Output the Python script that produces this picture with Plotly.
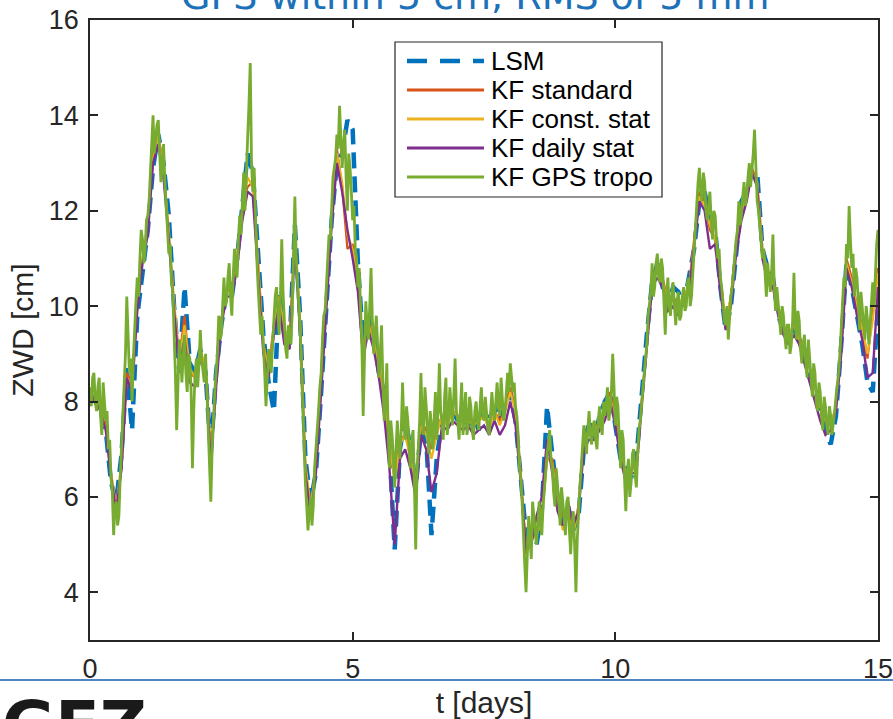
import plotly.graph_objects as go

# ---------------- data ----------------
t_step_fine = 0.025   # days, KF GPS tropo sampling
t_step_coarse = 0.1   # days, other series

kf_gps_tropo = [
    8.3, 7.9, 8.5, 8.6, 8.0, 7.8, 8.3, 8.5, 7.7, 7.3, 8.4, 8.0, 7.6, 7.8, 7.0, 7.2, 6.4, 6.1, 5.2, 5.8,
    5.9, 5.4, 5.6, 6.4, 7.0, 7.9, 8.2, 9.0, 10.2, 9.1, 8.6, 8.9, 8.0, 8.9, 9.6, 10.1, 10.6, 10.2, 11.0, 11.6,
    11.4, 10.9, 11.2, 11.8, 11.9, 12.2, 12.8, 13.6, 14.0, 13.2, 13.5, 13.8, 13.9, 13.0, 12.6, 12.9, 13.4, 12.6, 12.0, 11.6,
    11.1, 11.3, 10.5, 10.3, 9.6, 8.6, 7.4, 8.6, 9.3, 8.9, 8.4, 9.0, 9.4, 8.6, 8.2, 9.0, 8.9, 8.2, 6.6, 7.8,
    8.6, 8.9, 8.3, 8.8, 9.5, 8.9, 8.6, 8.4, 9.0, 8.3, 7.5, 6.8, 5.9, 7.0, 7.8, 8.2, 8.6, 9.0, 9.8, 9.3,
    9.4, 9.9, 10.6, 10.0, 10.1, 10.6, 10.9, 10.2, 9.8, 10.6, 11.2, 10.8, 10.6, 11.4, 11.9, 11.5, 12.4, 12.8, 12.0, 12.6,
    13.5, 14.2, 15.1, 13.0, 12.4, 12.9, 11.8, 11.0, 10.4, 10.0, 9.4, 9.8, 9.0, 8.6, 7.9, 8.5, 9.1, 8.8, 8.6, 9.2,
    9.8, 10.2, 10.4, 9.9, 9.4, 10.2, 11.4, 10.3, 9.6, 9.1, 8.9, 9.6, 9.3, 9.2, 9.9, 10.9, 12.3, 11.0, 10.6, 10.0,
    9.5, 8.6, 8.0, 7.3, 6.3, 5.8, 5.3, 5.7, 6.0, 5.4, 5.8, 6.6, 7.0, 7.2, 7.8, 8.3, 8.6, 9.3, 9.8, 9.9,
    10.5, 11.2, 11.5, 11.4, 12.1, 12.7, 12.9, 13.1, 13.6, 13.3, 14.2, 13.6, 12.9, 13.4, 13.7, 12.7, 12.0, 13.2, 12.9, 12.4,
    11.8, 12.1, 11.2, 11.0, 10.4, 10.8, 10.0, 9.2, 7.7, 9.0, 10.1, 9.6, 9.3, 10.0, 10.8, 9.7, 9.0, 9.4, 9.8, 9.2,
    8.5, 9.0, 9.6, 8.4, 7.6, 8.0, 8.8, 7.4, 6.6, 7.6, 7.3, 6.8, 6.2, 7.0, 7.6, 7.1, 6.8, 7.4, 8.4, 7.5,
    7.2, 7.9, 7.6, 7.0, 6.6, 7.2, 7.4, 6.3, 4.9, 6.5, 7.0, 7.6, 8.6, 7.6, 7.3, 8.3, 7.9, 7.2, 6.9, 7.8,
    7.5, 7.0, 7.8, 8.2, 7.2, 7.8, 8.8, 7.8, 7.6, 7.2, 8.1, 8.5, 7.3, 7.6, 8.3, 7.9, 7.5, 8.1, 8.9, 7.8,
    7.6, 7.2, 7.9, 8.4, 7.3, 7.7, 8.2, 7.3, 7.5, 8.1, 7.9, 7.4, 7.2, 7.8, 8.0, 7.6, 7.4, 7.9, 8.3, 7.7,
    7.6, 8.1, 7.8, 7.4, 7.3, 7.9, 8.2, 7.8, 7.6, 8.0, 8.4, 7.9, 7.7, 8.5, 8.1, 7.6, 7.8, 8.3, 8.6, 8.2,
    8.8, 8.5, 8.2, 8.4, 7.9, 7.7, 7.3, 6.6, 6.4, 5.9, 5.1, 4.6, 4.0, 5.0, 5.6, 5.1, 4.7, 5.9, 5.5, 5.3,
    5.0, 5.6, 5.9, 5.4, 5.2, 5.8, 6.2, 6.5, 6.9, 7.1, 7.4, 6.8, 6.6, 6.1, 5.8, 6.6, 6.3, 5.9, 5.4, 6.2,
    5.9, 5.5, 5.2, 5.9, 6.0, 5.3, 4.8, 5.4, 5.7, 5.0, 4.0, 5.1, 5.8, 6.2, 6.6, 7.0, 7.5, 7.2, 6.9, 7.4,
    7.8, 7.3, 7.1, 7.5, 7.6, 7.2, 7.0, 7.6, 7.9, 7.5, 7.3, 8.0, 7.7, 7.9, 8.3, 7.6, 7.8, 8.2, 9.0, 8.3,
    7.5, 8.1, 7.9, 7.2, 6.6, 7.4, 7.2, 6.4, 5.7, 6.5, 6.8, 6.0, 6.3, 6.9, 7.0, 6.5, 6.2, 6.9, 7.4, 7.6,
    8.0, 8.4, 8.6, 8.9, 9.2, 9.8, 10.0, 10.3, 10.9, 10.2, 10.4, 10.9, 11.1, 10.6, 10.5, 11.0, 10.8, 10.1, 9.4, 10.2,
    10.6, 10.0, 9.8, 10.3, 10.5, 10.0, 9.6, 10.1, 10.3, 9.7, 9.8, 10.2, 10.4, 9.9, 10.0, 10.5, 10.6, 10.0, 10.2, 10.7,
    11.2, 11.5, 12.0, 12.6, 12.9, 12.4, 12.2, 12.8, 12.6, 12.0, 11.8, 12.2, 12.4, 11.8, 11.4, 12.0, 11.9, 11.4, 11.0, 11.2,
    10.6, 10.4, 10.0, 9.7, 9.6, 10.0, 9.3, 9.8, 10.2, 10.4, 10.8, 11.2, 11.4, 11.6, 12.2, 11.7, 11.9, 12.3, 12.6, 12.1,
    12.3, 12.7, 13.0, 12.5, 12.8, 13.2, 13.7, 12.9, 12.2, 12.0, 11.6, 11.3, 11.0, 11.2, 10.6, 10.2, 10.9, 10.6, 10.3, 10.7,
    11.5, 10.4, 9.9, 10.4, 10.1, 9.7, 9.4, 10.0, 9.8, 9.4, 9.1, 9.6, 9.6, 9.0, 9.2, 9.7, 10.7, 9.6, 9.3, 9.9,
    9.7, 9.1, 8.8, 9.2, 9.4, 8.8, 8.5, 9.3, 8.9, 8.4, 8.1, 8.8, 8.6, 8.0, 7.8, 8.4, 8.2, 7.7, 7.4, 8.1,
    7.9, 7.5, 7.3, 7.9, 7.7, 7.3, 7.5, 7.8, 8.1, 8.3, 8.6, 9.0, 9.5, 9.9, 10.6, 10.4, 11.3, 11.0, 12.1, 11.4,
    10.8, 11.1, 10.2, 10.8, 10.6, 10.1, 9.5, 10.3, 10.0, 9.6, 9.3, 10.0, 9.7, 9.2, 9.6, 10.1, 10.5, 10.0, 10.9, 11.3,
    11.6,
]

lsm = [
    8.2, 8.0, 7.8, 7.4, 6.3, 5.9, 6.9, 8.7, 7.4, 9.8,
    10.8, 11.6, 12.9, 13.6, 13.0, 11.9, 10.0, 8.6, 10.4, 8.8,
    8.6, 9.1, 8.6, 6.9, 8.6, 9.6, 10.3, 10.2, 11.0, 12.2,
    13.2, 12.8, 11.0, 9.4, 8.4, 7.8, 10.3, 9.4, 9.2, 11.7,
    9.8, 6.8, 5.9, 6.5, 8.2, 10.0, 11.8, 13.0, 13.2, 13.9,
    13.7, 10.9, 9.2, 9.8, 9.5, 8.6, 8.2, 7.0, 4.9, 7.0,
    7.7, 7.0, 6.2, 7.4, 7.2, 5.2, 6.8, 7.6, 7.7, 7.8,
    7.6, 7.8, 7.5, 7.7, 7.4, 7.8, 7.6, 7.9, 7.6, 7.9,
    8.2, 7.6, 6.5, 5.2, 5.0, 5.0, 5.7, 7.9, 6.9, 6.0,
    5.5, 5.8, 5.3, 5.6, 7.0, 7.6, 7.2, 7.7, 8.0, 8.2,
    7.5, 6.8, 6.6, 6.4, 6.8, 8.2, 9.4, 10.5, 10.9, 10.4,
    10.0, 10.4, 10.3, 10.0, 10.6, 11.2, 12.2, 12.4, 11.8, 11.6,
    10.4, 9.5, 10.0, 11.0, 12.2, 12.4, 12.8, 12.8, 11.2, 10.8,
    10.6, 9.8, 9.5, 9.4, 9.5, 9.3, 9.1, 8.5, 8.2, 7.8,
    7.4, 7.1, 7.7, 9.2, 10.9, 10.4, 9.8, 9.2, 8.4, 8.2,
    10.0,
]

kf_standard = [
    8.2, 8.1, 7.9, 7.5, 6.5, 5.7, 6.6, 8.6, 8.4, 10.0,
    11.0, 11.6, 13.2, 13.6, 12.9, 11.5, 10.0, 8.9, 9.8, 8.6,
    8.5, 9.0, 8.8, 6.8, 8.4, 9.7, 10.3, 10.4, 11.0, 12.1,
    12.5, 12.6, 10.8, 9.2, 8.7, 9.6, 10.2, 9.4, 9.3, 11.5,
    9.6, 6.6, 5.7, 6.6, 8.4, 10.2, 11.9, 13.3, 12.5, 11.2,
    11.3, 10.5, 9.0, 9.7, 9.3, 8.8, 8.0, 7.0, 6.4, 7.2,
    7.3, 6.9, 6.2, 7.6, 7.4, 7.0, 7.4, 7.7, 7.6, 7.8,
    7.7, 7.6, 7.7, 7.5, 7.6, 7.7, 7.5, 7.8, 7.6, 7.8,
    8.3, 7.8, 6.5, 4.8, 5.1, 5.3, 5.6, 6.8, 6.8, 6.0,
    5.6, 5.7, 5.3, 5.8, 7.2, 7.4, 7.4, 7.6, 7.8, 8.2,
    7.7, 6.9, 6.4, 6.6, 6.6, 8.0, 9.2, 10.6, 10.8, 10.6,
    10.1, 10.2, 10.0, 10.2, 10.4, 11.4, 12.4, 12.2, 11.6, 11.4,
    10.5, 9.6, 10.2, 11.3, 12.0, 12.4, 12.9, 12.6, 11.2, 10.7,
    10.6, 10.0, 9.6, 9.4, 9.6, 9.4, 9.0, 8.7, 8.3, 7.9,
    7.6, 7.5, 7.9, 9.2, 11.0, 10.6, 10.0, 9.6, 8.9, 9.8,
    10.8,
]

kf_const_stat = [
    8.2, 8.1, 7.9, 7.4, 6.5, 5.8, 6.7, 8.5, 8.3, 10.1,
    11.0, 11.7, 13.1, 13.6, 12.8, 11.6, 10.1, 8.9, 9.6, 8.7,
    8.5, 9.1, 8.7, 6.9, 8.4, 9.7, 10.3, 10.3, 11.1, 12.0,
    12.7, 12.5, 10.9, 9.2, 8.6, 9.5, 10.2, 9.5, 9.3, 11.4,
    9.7, 6.7, 5.8, 6.6, 8.3, 10.2, 11.8, 13.2, 12.6, 11.5,
    11.2, 10.5, 9.1, 9.6, 9.3, 8.7, 8.0, 7.1, 6.3, 7.1,
    7.3, 6.8, 6.3, 7.5, 7.3, 6.8, 7.3, 7.7, 7.5, 7.8,
    7.7, 7.6, 7.6, 7.5, 7.6, 7.7, 7.4, 7.8, 7.5, 7.8,
    8.2, 7.8, 6.4, 4.9, 5.1, 5.2, 5.5, 6.8, 6.7, 5.9,
    5.3, 5.6, 5.2, 5.8, 7.1, 7.4, 7.3, 7.6, 7.7, 8.1,
    7.6, 6.9, 6.5, 6.6, 6.6, 8.0, 9.2, 10.5, 10.8, 10.5,
    10.1, 10.1, 10.0, 10.2, 10.4, 11.3, 12.3, 12.1, 11.7, 11.4,
    10.5, 9.7, 10.2, 11.2, 12.0, 12.3, 12.8, 12.6, 11.2, 10.7,
    10.5, 10.0, 9.6, 9.4, 9.6, 9.3, 9.0, 8.7, 8.3, 7.9,
    7.6, 7.5, 7.9, 9.1, 10.9, 10.5, 10.0, 9.5, 9.0, 9.7,
    10.7,
]

kf_daily_stat = [
    8.2, 8.0, 7.8, 7.4, 6.4, 5.7, 6.6, 8.5, 8.2, 9.9,
    10.9, 11.5, 13.0, 13.4, 12.7, 11.4, 9.9, 8.7, 9.3, 8.4,
    8.3, 8.9, 8.6, 6.7, 8.3, 9.6, 10.2, 10.2, 10.8, 11.8,
    12.4, 12.3, 10.6, 9.0, 8.5, 9.4, 10.0, 9.2, 9.1, 11.3,
    9.4, 6.5, 5.6, 6.5, 8.2, 10.0, 11.7, 13.0, 12.4, 11.6,
    11.0, 10.3, 8.9, 9.5, 9.1, 8.5, 7.7, 6.6, 5.0, 6.8,
    7.0, 6.6, 6.0, 7.3, 7.0, 6.1, 6.5, 7.5, 7.4, 7.6,
    7.5, 7.4, 7.5, 7.3, 7.4, 7.5, 7.3, 7.6, 7.3, 7.5,
    8.0, 7.5, 6.3, 4.9, 5.0, 5.6, 6.0, 7.2, 6.5, 5.7,
    5.4, 5.9, 5.4, 5.7, 7.0, 7.2, 7.2, 7.4, 7.6, 8.0,
    7.5, 6.8, 6.3, 6.5, 6.5, 7.9, 9.1, 10.4, 10.6, 10.4,
    9.9, 10.0, 9.8, 10.1, 10.3, 11.2, 12.2, 12.0, 11.2, 11.3,
    10.3, 9.5, 10.0, 11.1, 11.8, 12.2, 12.8, 12.5, 11.0, 10.5,
    10.4, 9.8, 9.4, 9.2, 9.4, 9.2, 8.8, 8.4, 8.0, 7.6,
    7.3, 7.4, 7.8, 9.0, 10.8, 10.4, 9.8, 9.3, 8.5, 8.6,
    10.4,
]

t_fine = [round(i * t_step_fine, 4) for i in range(len(kf_gps_tropo))]
t_coarse = [round(i * t_step_coarse, 4) for i in range(len(lsm))]

x_ticks = [0, 5, 10, 15]
y_ticks = [4, 6, 8, 10, 12, 14, 16]

series_names = ["LSM", "KF standard", "KF const. stat", "KF daily stat", "KF GPS tropo"]

title_text = "GPS within 5 cm, RMS of 5 mm"
x_label = "t [days]"
y_label = "ZWD [cm]"
logo_text = "GFZ"

# ---------------- styles ----------------
colors = ["#0072BD", "#D95319", "#EDB120", "#7E2F8E", "#77AC30"]
widths = [4.5, 2.2, 2.2, 2.4, 2.8]
dashes = ["16px,8px", "solid", "solid", "solid", "solid"]

W, H = 893, 719
ML, MR, MT, MB = 90, 15, 20, 79
plot_w = W - ML - MR
plot_h = H - MT - MB


def px_x(px):
    return (px - ML) / plot_w


def px_y(py):
    return (H - MB - py) / plot_h


AX_FONT = "Liberation Sans, Arial, Helvetica, sans-serif"

fig = go.Figure()
xs = [t_coarse, t_coarse, t_coarse, t_coarse, t_fine]
ys = [lsm, kf_standard, kf_const_stat, kf_daily_stat, kf_gps_tropo]
for name, x, y, c, w, d in zip(series_names, xs, ys, colors, widths, dashes):
    fig.add_trace(go.Scatter(x=x, y=y, mode="lines", name=name,
                             line=dict(color=c, width=w, dash=d)))

axis_common = dict(
    showline=True, mirror="ticks", linecolor="#262626", linewidth=1.5,
    ticks="inside", ticklen=8, tickwidth=1.5, tickcolor="#262626",
    showgrid=False, zeroline=False, automargin=False,
    ticklabeloverflow="allow",
    tickfont=dict(family=AX_FONT, size=27, color="#262626"),
)

fig.update_xaxes(range=[0, 15], tickvals=x_ticks, ticklabelstandoff=4,
                 title=dict(text=x_label, standoff=9,
                            font=dict(family=AX_FONT, size=30, color="#262626")),
                 **axis_common)
fig.update_yaxes(range=[3, 16], tickvals=y_ticks, ticklabelstandoff=4,
                 title=dict(text=y_label, standoff=6,
                            font=dict(family=AX_FONT, size=30, color="#262626")),
                 **axis_common)

annotations = [
    dict(text=title_text, xref="paper", yref="paper",
         x=px_x(475), y=px_y(-4),
         xanchor="center", yanchor="middle", showarrow=False,
         font=dict(family="DejaVu Sans, Verdana, sans-serif", size=38, color="#1C71B8")),
    dict(text="<b>" + logo_text + "</b>", xref="paper", yref="paper",
         x=px_x(0), y=px_y(725),
         xanchor="left", yanchor="middle", showarrow=False,
         font=dict(family="DejaVu Sans, Arial, sans-serif", size=65, color="#1a1a1a")),
]

shapes = [
    dict(type="line", xref="paper", yref="paper",
         x0=px_x(0), x1=px_x(W), y0=px_y(680), y1=px_y(680),
         line=dict(color="#4F86C0", width=2)),
]

# legend box (MATLAB style), drawn in layout
leg_x0, leg_x1, leg_y0, leg_y1 = 395, 662, 42, 197
row_y = [61, 90, 119, 148, 177]
shapes.append(dict(type="rect", xref="paper", yref="paper",
                   x0=px_x(leg_x0), x1=px_x(leg_x1), y0=px_y(leg_y1), y1=px_y(leg_y0),
                   line=dict(color="#262626", width=1.2), fillcolor="white", layer="above"))
leg_dashes = ["20px,13px", "solid", "solid", "solid", "solid"]
for name, c, ry, d, w in zip(series_names, colors, row_y, leg_dashes, widths):
    shapes.append(dict(type="line", xref="paper", yref="paper",
                       x0=px_x(407), x1=px_x(484), y0=px_y(ry), y1=px_y(ry),
                       line=dict(color=c, width=3 if d == "solid" else 4.5, dash=d),
                       layer="above"))
    annotations.append(dict(text=name, xref="paper", yref="paper",
                            x=px_x(489), y=px_y(ry), xanchor="left", yanchor="middle",
                            showarrow=False,
                            font=dict(family=AX_FONT, size=26, color="black")))

fig.update_layout(
    width=W, height=H,
    margin=dict(l=ML, r=MR, t=MT, b=MB),
    paper_bgcolor="white", plot_bgcolor="white",
    showlegend=False,
    annotations=annotations,
    shapes=shapes,
    hovermode=False,
)

fig.write_html("out.html")
